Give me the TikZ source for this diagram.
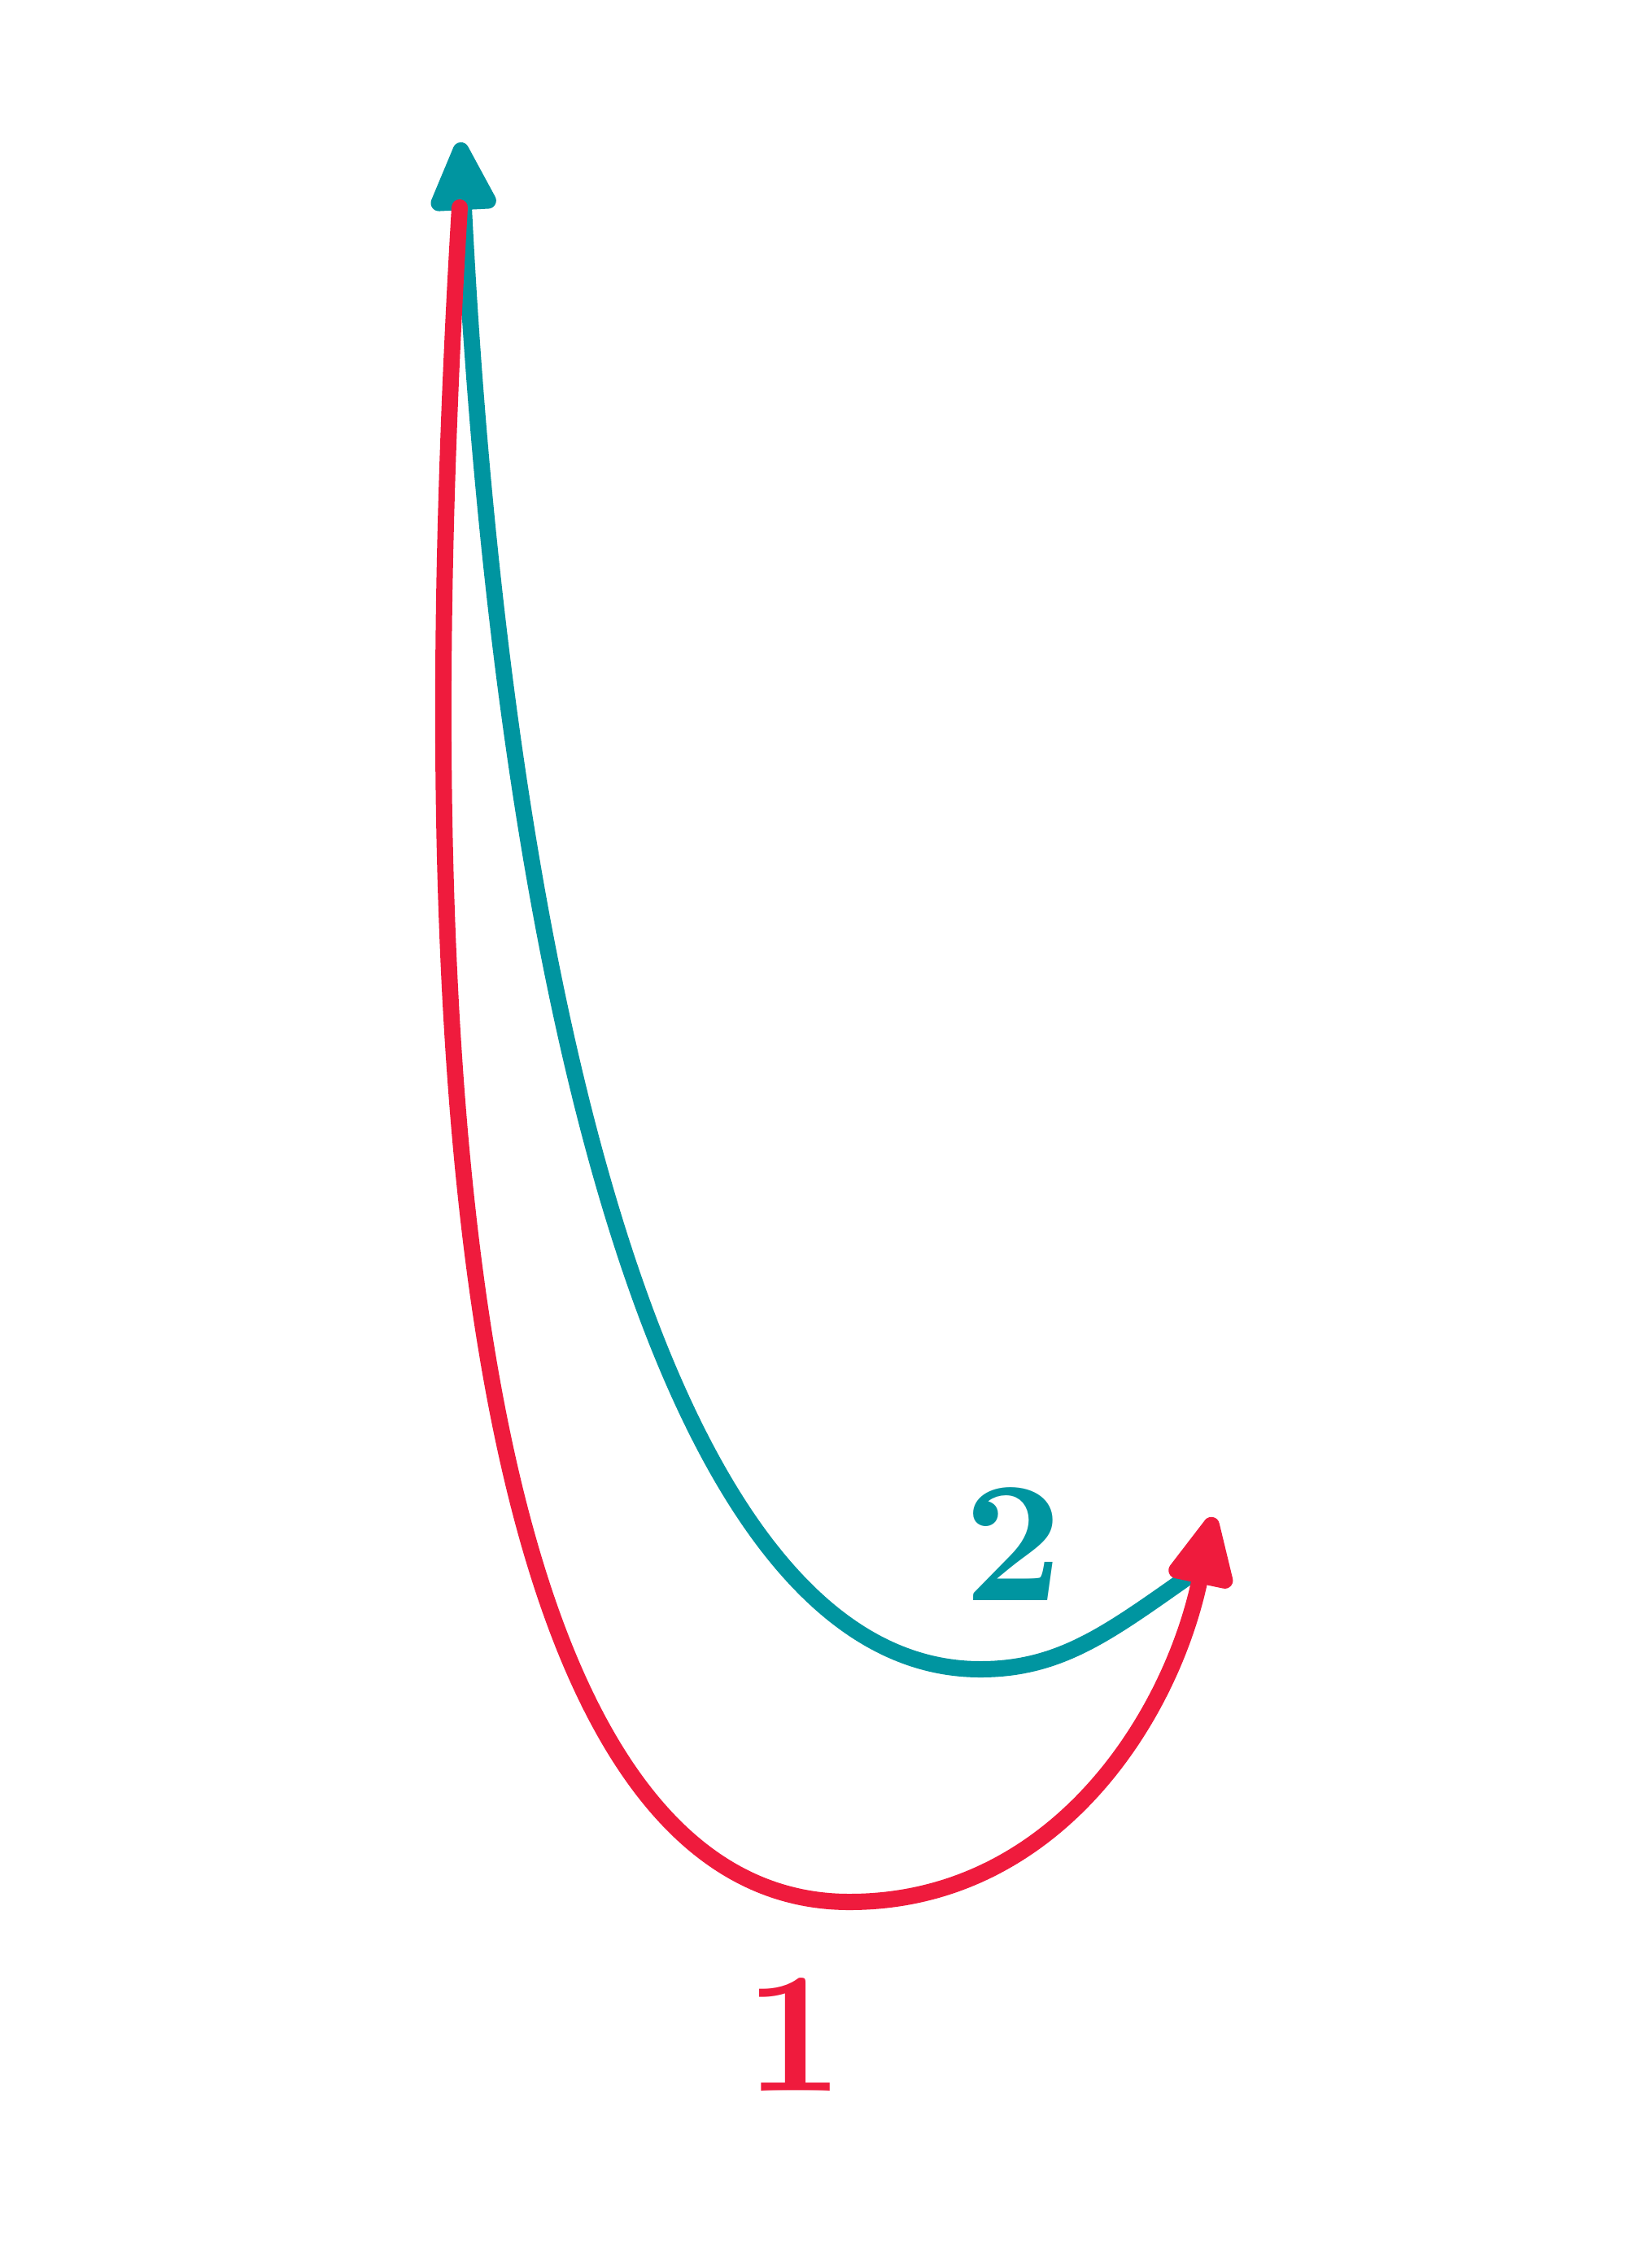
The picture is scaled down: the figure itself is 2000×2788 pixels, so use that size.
\documentclass[tikz,border=0pt]{standalone}
\usetikzlibrary{arrows.meta}
\definecolor{tealline}{HTML}{0095A0}
\definecolor{redline}{HTML}{EF1B3D}
\begin{document}
\begin{tikzpicture}[x=0.01cm, y=-0.01cm,
    curve/.style={line width=0.2cm, line cap=round},
    tip/.style={-{Triangle[length=0.98cm, width=0.86cm, round]}},
    digit/.style={inner sep=0pt, font=\normalsize\bfseries}]
    \useasboundingbox (0,0) rectangle (2000,2788);

    % End points
    \coordinate (redstart) at (565,255);
    \coordinate (redlow) at (1044,2338);
    \coordinate (redtip) at (1491,1865);
    \coordinate (tealstart) at (1465,1935);
    \coordinate (teallow) at (1205,2052);
    \coordinate (tealtip) at (566,175);

    % Path 2 (drawn first, lies under path 1)
    \draw[curve, tealline, tip] (tealstart) .. controls (1365,2005) and (1305,2052) .. (teallow)
        .. controls (805,2052) and (616,1175) .. (tealtip);

    % Path 1
    \draw[curve, redline, tip] (redstart) .. controls (481,1655) and (664,2338) .. (redlow)
        .. controls (1294,2338) and (1438,2115) .. (redtip);

    % Labels
    \node[digit, tealline] (lbltwo) at (1245,1898) {\scalebox{6.03}{\bfseries 2}};
    \node[digit, redline] (lblone) at (976,2501) {\scalebox{6.03}{\bfseries 1}};
\end{tikzpicture}
\end{document}
